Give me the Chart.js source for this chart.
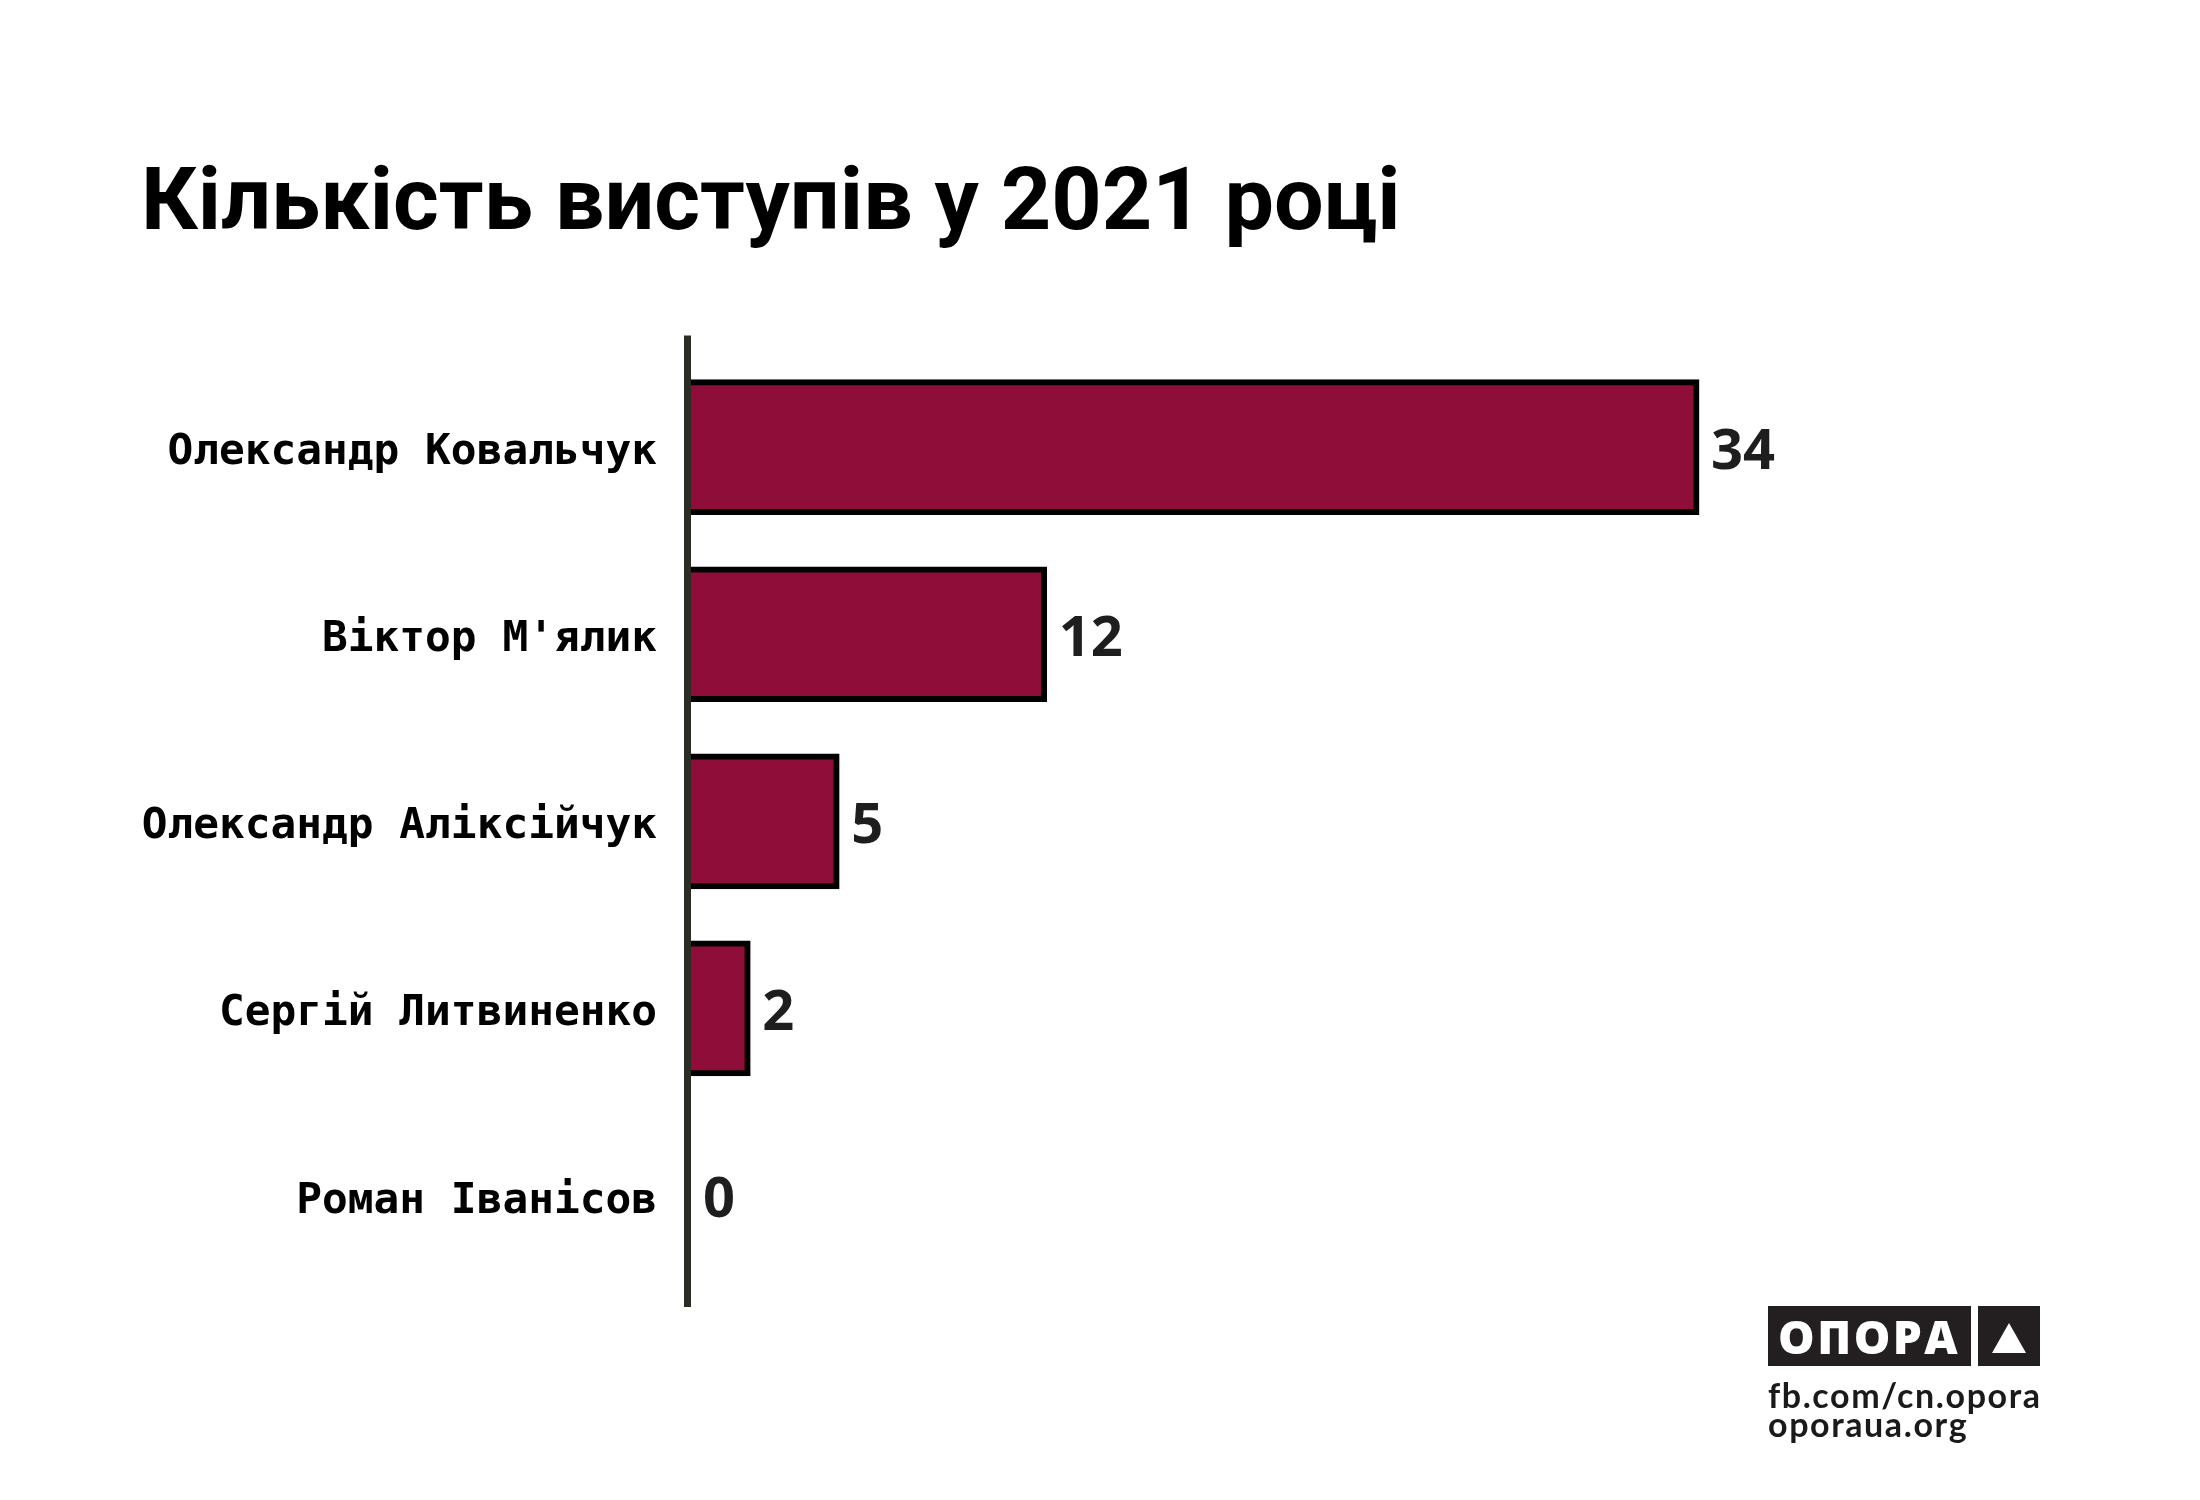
<!DOCTYPE html>
<html lang="uk">
<head>
<meta charset="utf-8">
<title>Кількість виступів у 2021 році</title>
<script src="https://cdn.jsdelivr.net/npm/chart.js@4/dist/chart.umd.min.js"></script>
<style>
  body { margin: 0; background: #fff; }
  #wrap { position: relative; width: 2200px; height: 1500px; }
  .logo-box { position: absolute; top: 1306px; height: 60px; background: #231f20; }
  #logoName { left: 1768px; width: 203px; color: #fff; font: 800 46px "Open Sans", sans-serif;
              line-height: 60px; text-indent: 10px; letter-spacing: 2.5px; }
  #logoMark { left: 1978px; width: 62px; }
  #logoMark span { position: absolute; left: 14px; top: 17px; width: 0; height: 0;
                   border-left: 17px solid transparent; border-right: 17px solid transparent;
                   border-bottom: 30px solid #fff; }
  .logo-link { position: absolute; left: 1768px; font: 700 34px Lato, sans-serif; color: #1a1a1a;
               letter-spacing: 1.6px; }
</style>
</head>
<body>
<div id="wrap">
  <canvas id="speeches" width="2200" height="1500"></canvas>
  <div class="logo-box" id="logoName">ОПОРА</div>
  <div class="logo-box" id="logoMark"><span></span></div>
  <div class="logo-link" style="top:1374px">fb.com/cn.opora</div>
  <div class="logo-link" style="top:1403px">oporaua.org</div>
</div>
<script>
// депутати та кількість виступів
var deputies = ["Олександр Ковальчук", "Віктор М'ялик", "Олександр Аліксійчук", "Сергій Литвиненко", "Роман Іванісов"];
var speeches = [34, 12, 5, 2, 0];

// value labels at the end of each bar
var valueLabels = {
    id: 'valueLabels',
    afterDatasetsDraw: function(chart) {
        var ctx = chart.ctx;
        var meta = chart.getDatasetMeta(0);
        ctx.save();
        ctx.font = '700 56px "Open Sans"';
        ctx.fillStyle = '#1e1e1e';
        ctx.textAlign = 'left';
        ctx.textBaseline = 'alphabetic';
        meta.data.forEach(function(bar, i) {
            ctx.fillText(speeches[i], bar.x + 12, bar.y + 22);
        });
        ctx.restore();
    }
};

// vertical axis line, a bit longer than the category area
var axisLine = {
    id: 'axisLine',
    afterDatasetsDraw: function(chart) {
        var ctx = chart.ctx, area = chart.chartArea;
        ctx.save();
        ctx.strokeStyle = '#2b2c24';
        ctx.lineWidth = 7;
        ctx.beginPath();
        ctx.moveTo(area.left - 3.5, area.top - 18);
        ctx.lineTo(area.left - 3.5, area.bottom + 18);
        ctx.stroke();
        ctx.restore();
    }
};

var ctx = document.getElementById('speeches').getContext('2d');

var chart = new Chart(ctx, {
    type: 'bar',
    data: {
        labels: deputies,
        datasets: [{
            data: speeches,
            backgroundColor: '#8e0e39',
            borderColor: '#000',
            borderWidth: 6,
            borderSkipped: 'start',
            barThickness: 135
        }]
    },
    options: {
        indexAxis: 'y',
        responsive: false,
        devicePixelRatio: 1,
        animation: false,
        layout: { padding: { left: 141, right: 323, top: 0, bottom: 211 } },
        plugins: {
            legend: { display: false },
            tooltip: { enabled: false },
            title: {
                display: true,
                text: 'Кількість виступів у 2021 році',
                align: 'start',
                color: '#000',
                font: { family: 'Roboto', weight: 'bold', size: 88, lineHeight: 1.2 },
                padding: { top: 154, bottom: 94 }
            }
        },
        scales: {
            x: { display: false, min: 0, max: 40 },
            y: {
                grid: { display: false, drawTicks: false },
                border: { display: false },
                ticks: {
                    color: '#000',
                    padding: 34,
                    labelOffset: 6,
                    font: { family: 'DejaVu Sans Mono', weight: 'bold', size: 42.8 }
                },
                afterFit: function(scale) { scale.width = 550; }
            }
        }
    },
    plugins: [valueLabels, axisLine]
});
</script>
</body>
</html>
